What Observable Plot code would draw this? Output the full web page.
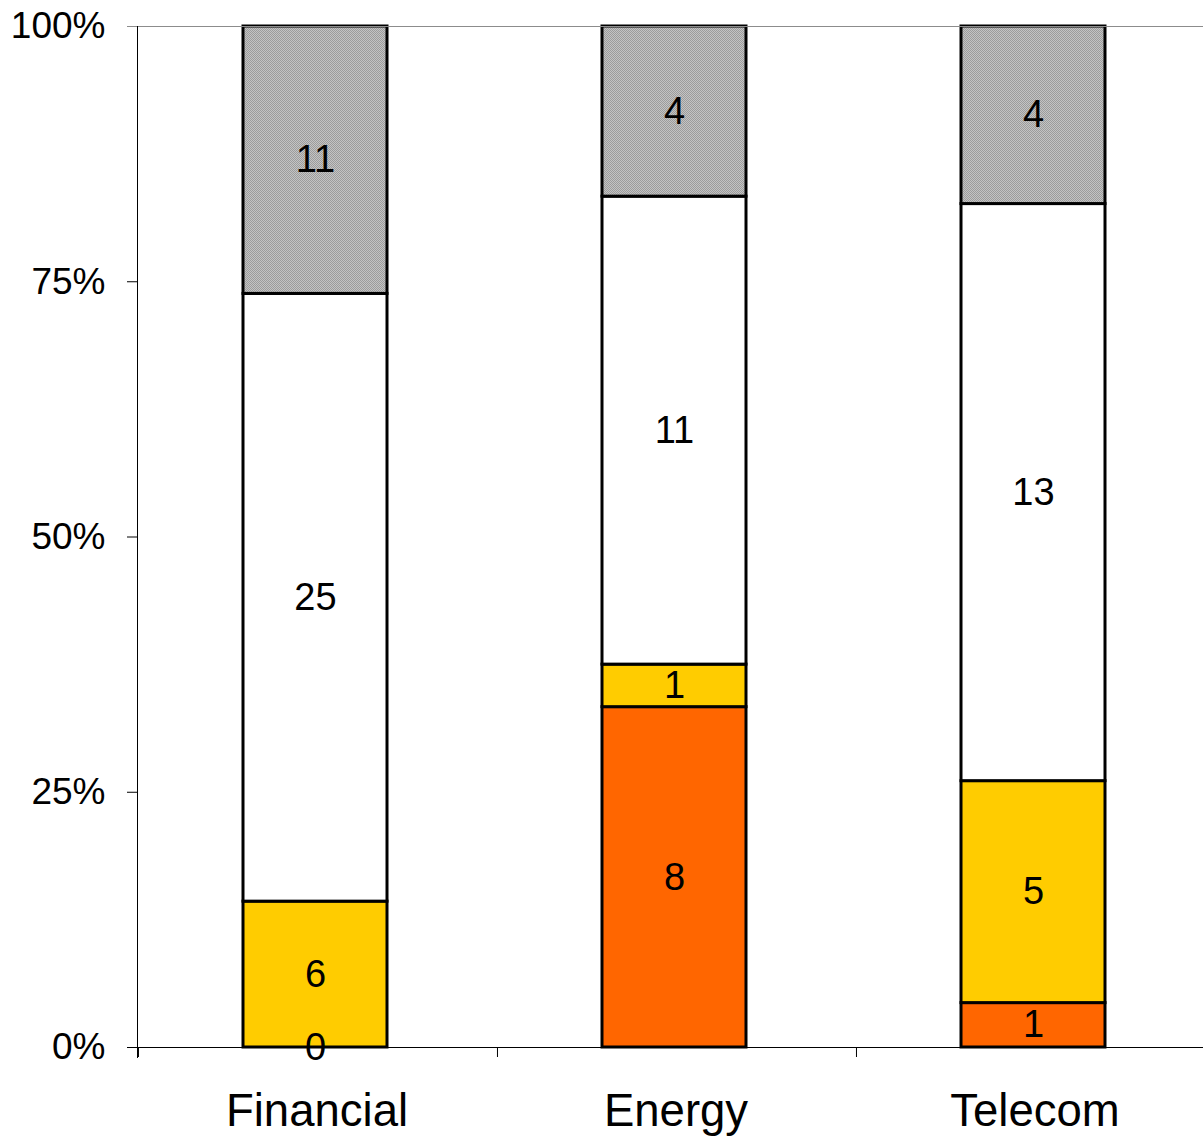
<!DOCTYPE html>
<html>
<head>
<meta charset="utf-8">
<script src="https://cdn.jsdelivr.net/npm/d3@7"></script>
<script src="https://cdn.jsdelivr.net/npm/@observablehq/plot@0.6"></script>
<style>
  html, body { margin: 0; padding: 0; background: #fff; overflow: hidden; }
  #chart { width: 1203px; height: 1136px; }
</style>
</head>
<body>
<div id="chart"></div>
<script>
// Sectors along the x axis
const categories = ["Financial", "Energy", "Telecom"];
// Segments, stacked bottom to top
const seriesNames = ["Group A", "Group B", "Group C", "Group D"];
const seriesColors = ["#ff6600", "#ffcc00", "#ffffff", "url(#gray-dots)"];
// Counts per segment, one array per sector (bottom to top)
const financialCounts = [0, 6, 25, 11];
const energyCounts = [8, 1, 11, 4];
const telecomCounts = [1, 5, 13, 4];
// Percentage ticks on the y axis
const yTicks = [0, 0.25, 0.5, 0.75, 1];

const countsBySector = [financialCounts, energyCounts, telecomCounts];
const rows = [];
categories.forEach((category, ci) => {
  seriesNames.forEach((series, si) => {
    rows.push({category, series, value: countsBySector[ci][si]});
  });
});

const width = 1203;
const height = 1136;
const marginLeft = 137;
const marginRight = -13;
const paddingInner = 0.6;
const paddingOuter = 0.3;
const align = 0.487;
// band step: padding inner 0.6 and outer 0.3 give exactly one step per category
const step = (width - marginLeft - marginRight) / categories.length;
// separators sit on the evenly spaced category boundaries
const separatorOffset = -step / 2 - (align - 0.5) * 2 * paddingOuter * step;

const fontFamily = "'Liberation Sans', Arial, Helvetica, sans-serif";

const chart = Plot.plot({
  width,
  height,
  marginLeft,
  marginRight,
  marginTop: 26,
  marginBottom: 89,
  style: {fontFamily, fontSize: "37px", color: "#000", background: "#fff"},
  x: {domain: categories, paddingInner, paddingOuter, align, label: null},
  y: {domain: [0, 1], label: null},
  color: {type: "ordinal", domain: seriesNames, range: seriesColors},
  marks: [
    Plot.barY(rows, Plot.stackY({
      x: "category",
      y: "value",
      z: "series",
      fill: "series",
      offset: "normalize",
      order: null,
      stroke: "#000",
      strokeWidth: 3
    })),
    Plot.text(rows, Plot.stackY({
      x: "category",
      y: "value",
      z: "series",
      offset: "normalize",
      order: null,
      text: "value",
      fontSize: 38,
      fill: "#000"
    })),
    Plot.axisY({
      ticks: yTicks,
      tickFormat: d3.format(".0%"),
      tickSize: 10,
      tickPadding: 22,
      fontSize: 37
    }),
    Plot.axisX({
      tickSize: 0,
      tickPadding: 46,
      fontSize: 45.5,
      dx: 1.5
    }),
    // category separators below the baseline
    Plot.ruleX(categories, {x: (d) => d, dx: separatorOffset, y1: 0, y2: 0, insetBottom: -10, stroke: "#000"}),
    // top reference line at 100%
    Plot.ruleY([1], {stroke: "#8c8c8c", insetLeft: -10}),
    // baseline
    Plot.ruleY([0], {stroke: "#000", insetLeft: -10}),
    // vertical axis line
    Plot.frame({anchor: "left", stroke: "#000", insetBottom: -10})
  ]
});

// dotted gray fill used by the top segment
const ns = "http://www.w3.org/2000/svg";
const defs = document.createElementNS(ns, "defs");
const pattern = document.createElementNS(ns, "pattern");
pattern.setAttribute("id", "gray-dots");
pattern.setAttribute("width", "2");
pattern.setAttribute("height", "2");
pattern.setAttribute("patternUnits", "userSpaceOnUse");
[["0", "0", "2", "2", "#c4c4c4"], ["0", "0", "1", "1", "#9c9c9c"], ["1", "1", "1", "1", "#9c9c9c"]].forEach(([x, y, w, h, f]) => {
  const r = document.createElementNS(ns, "rect");
  r.setAttribute("x", x); r.setAttribute("y", y);
  r.setAttribute("width", w); r.setAttribute("height", h);
  r.setAttribute("fill", f);
  pattern.appendChild(r);
});
defs.appendChild(pattern);
chart.insertBefore(defs, chart.firstChild);

document.getElementById("chart").appendChild(chart);
</script>
</body>
</html>
